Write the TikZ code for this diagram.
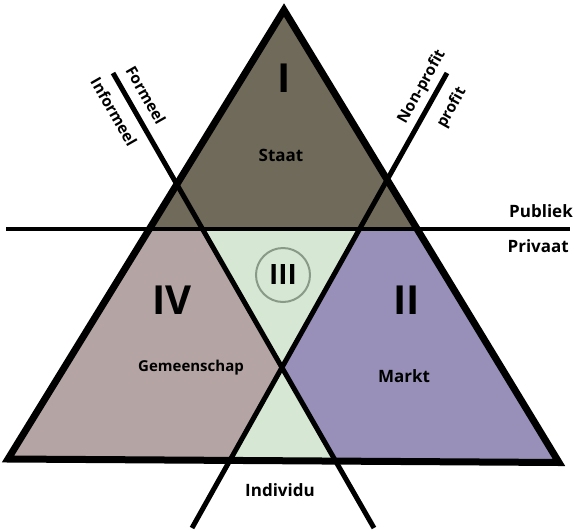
\documentclass[tikz,border=0pt]{standalone}
\usepackage{fontspec}
\setmainfont{Open Sans}
\definecolor{topc}{RGB}{112,106,90}
\definecolor{greenc}{RGB}{214,232,212}
\definecolor{mauvec}{RGB}{180,165,164}
\definecolor{purpc}{RGB}{152,144,184}
\definecolor{circc}{RGB}{138,154,136}
\begin{document}
\begin{tikzpicture}[x=1pt,y=-1pt,
  lbl/.style={font=\bfseries\fontsize{17}{19}\selectfont, inner sep=0pt},
  smalllbl/.style={font=\bfseries\fontsize{15}{17}\selectfont, inner sep=0pt},
  sidelbl/.style={font=\bfseries\fontsize{15.5}{17}\selectfont, inner sep=0pt},
  bignum/.style={font=\bfseries\fontsize{40}{40}\selectfont, inner sep=0pt},
  midnum/.style={font=\bfseries\fontsize{28}{28}\selectfont, inner sep=0pt},
  outline/.style={line width=7pt, line join=miter},
  divider/.style={line width=5pt},
  horiz/.style={line width=4pt}]
\useasboundingbox (0,0) rectangle (574,531);
\coordinate (A) at (284,10);
\coordinate (BL) at (8,459);
\coordinate (BR) at (559,462.5);
\coordinate (F) at (113,73);
\coordinate (F2) at (374,528);
\coordinate (N) at (447,73);
\coordinate (N2) at (192,528);
\coordinate (H1) at (6,229);
\coordinate (H2) at (570,229);
\coordinate (G1) at (0,531);
\coordinate (G2) at (574,531);
\coordinate (X) at (intersection of F--F2 and N--N2);
\coordinate (F229) at (intersection of F--F2 and H1--H2);
\coordinate (N229) at (intersection of N--N2 and H1--H2);
\coordinate (Fb) at (intersection of F--F2 and G1--G2);
\coordinate (Nb) at (intersection of N--N2 and G1--G2);
\begin{scope}
  \clip (A) -- (BL) -- (BR) -- cycle;
  \fill[topc] (0,0) rectangle (574,229);
  \fill[greenc] (0,229) rectangle (574,531);
  \fill[mauvec] (0,229) -- (F229) -- (X) -- (Nb) -- (0,531) -- cycle;
  \fill[purpc] (574,229) -- (N229) -- (X) -- (Fb) -- (574,531) -- cycle;
\end{scope}
\draw[horiz] (H1) -- (H2);
\draw[divider] (F) -- (F2);
\draw[divider] (N) -- (N2);
\draw[outline] (A) -- (BL) -- (BR) -- cycle;
\node[circle, draw=circc, line width=2pt, minimum size=54pt, inner sep=0pt] (c3) at (283,275) {};
\node[midnum] (n3) at (c3.center) {III};
\node[bignum] (n1) at (284,78) {I};
\node[bignum] (n4) at (172,300) {IV};
\node[bignum] (n2) at (407,300) {II};
\node[lbl] (staat) at (281,155) {Staat};
\node[smalllbl] (gem) at (191,368) {Gemeenschap};
\node[lbl] (markt) at (404,376) {Markt};
\node[lbl] (ind) at (280,490) {Individu};
\node[lbl, anchor=east] (pub) at (573,211) {Publiek};
\node[lbl, anchor=east] (priv) at (569,246) {Privaat};
\node[sidelbl, rotate=-60.2] (form) at (146,95) {Formeel};
\node[sidelbl, rotate=-60.2] (inform) at (114,112) {Informeel};
\node[sidelbl, rotate=60.7] (nonp) at (422,87) {Non-profit};
\node[sidelbl, rotate=60.7] (prof) at (452,108) {profit};
\end{tikzpicture}
\end{document}
